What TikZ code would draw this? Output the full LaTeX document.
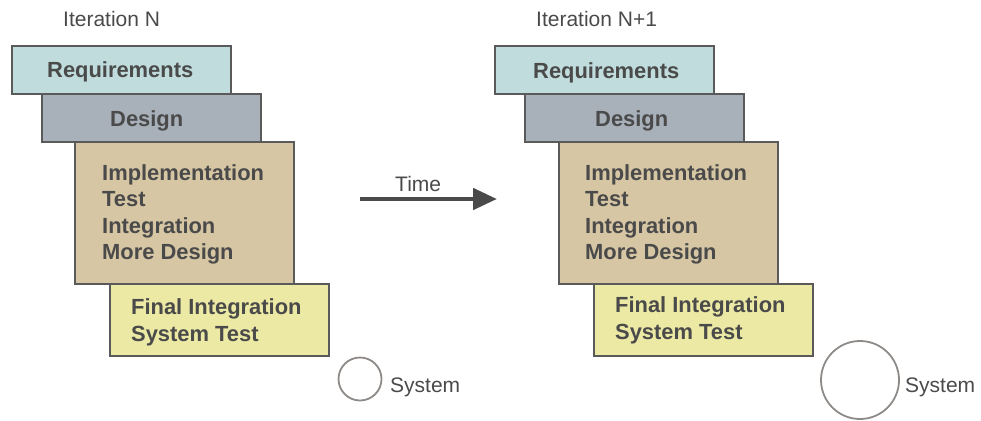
\documentclass[tikz,border=0pt]{standalone}
\usepackage{fontspec}
\setmainfont{Liberation Sans}
\usetikzlibrary{arrows.meta}
\definecolor{reqfill}{HTML}{C0DCDC}
\definecolor{desfill}{HTML}{A8B0BA}
\definecolor{impfill}{HTML}{D6C6A4}
\definecolor{finfill}{HTML}{EBE9A3}
\definecolor{boxline}{HTML}{5A5A5A}
\definecolor{labelgray}{HTML}{4A4A4A}
\definecolor{ringgray}{HTML}{8E8A88}
\tikzset{
  phase/.style={draw=boxline, line width=1.8pt, anchor=north west, inner sep=0pt,
    minimum width=219pt},
  phasetext/.style={anchor=base west, inner sep=0pt, text=labelgray,
    font=\bfseries\fontsize{21.9}{26}\selectfont},
  plaintext/.style={anchor=base west, inner sep=0pt, text=labelgray,
    font=\fontsize{21}{25}\selectfont},
  ring/.style={circle, draw=ringgray, line width=1.8pt, inner sep=0pt}
}
\begin{document}
\begin{tikzpicture}[x=1pt,y=-1pt]
\useasboundingbox (0,0) rectangle (981,420);

% ---- Iteration N ----
\node[plaintext] (itN) at (63,27) {Iteration N};
\node[phase, fill=reqfill, minimum height=48pt] (reqA) at (11,45) {};
\node[phase, fill=desfill, minimum height=48pt] (desA) at (41,93) {};
\node[phase, fill=impfill, minimum height=142pt] (impA) at (74,141) {};
\node[phase, fill=finfill, minimum height=72pt] (finA) at (109,283) {};
\node[phasetext] (reqAt) at (47,77) {Requirements};
\node[phasetext] (desAt) at (110,126) {Design};
\node[phasetext] (impAt1) at (102,180) {Implementation};
\node[phasetext] (impAt2) at (102,206.5) {Test};
\node[phasetext] (impAt3) at (102,233) {Integration};
\node[phasetext] (impAt4) at (102,259.5) {More Design};
\node[phasetext] (finAt1) at (131,314) {Final Integration};
\node[phasetext] (finAt2) at (131,341) {System Test};
\node[ring, minimum size=43pt] (sysA) at (360,379) {};
\node[plaintext] (sysAt) at (390,392) {System};

% ---- time arrow ----
\coordinate (tstart) at (360,199);
\coordinate (tend) at (497,199);
\draw[draw=labelgray, line width=4.8pt,
  -{Triangle[length=24pt,width=21pt]}] (tstart) -- (tend);
\node[plaintext] (timet) at (395,191) {Time};

% ---- Iteration N+1 ----
\node[plaintext] (itN1) at (536,27) {Iteration N+1};
\node[phase, fill=reqfill, minimum height=48pt] (reqB) at (494,45) {};
\node[phase, fill=desfill, minimum height=48pt] (desB) at (524,93) {};
\node[phase, fill=impfill, minimum height=142pt] (impB) at (558,141) {};
\node[phase, fill=finfill, minimum height=72pt] (finB) at (593,283) {};
\node[phasetext] (reqBt) at (533,78) {Requirements};
\node[phasetext] (desBt) at (595,126) {Design};
\node[phasetext] (impBt1) at (585,180) {Implementation};
\node[phasetext] (impBt2) at (585,206.5) {Test};
\node[phasetext] (impBt3) at (585,233) {Integration};
\node[phasetext] (impBt4) at (585,259.5) {More Design};
\node[phasetext] (finBt1) at (615,312) {Final Integration};
\node[phasetext] (finBt2) at (615,339) {System Test};
\node[ring, minimum size=78pt] (sysB) at (860,380) {};
\node[plaintext] (sysBt) at (905,392) {System};
\end{tikzpicture}
\end{document}
